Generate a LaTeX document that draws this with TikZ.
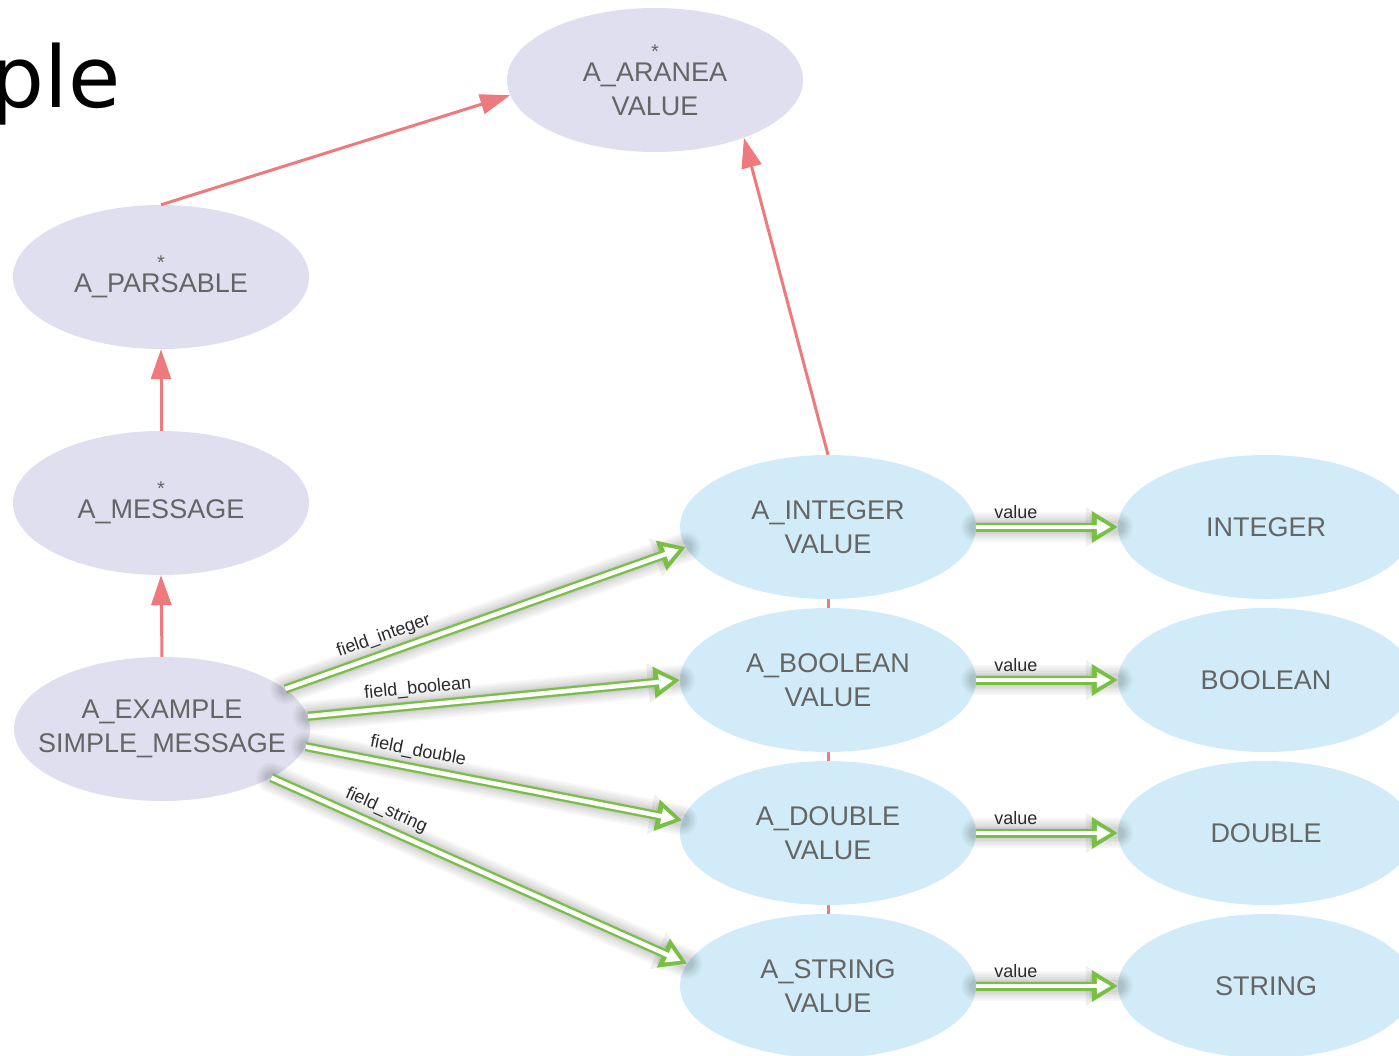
\documentclass[tikz,border=0pt]{standalone}
\usepackage{fontspec}
\setmainfont{Liberation Sans}
\newfontfamily\titlefont{DejaVu Sans}
\usetikzlibrary{shapes.geometric,arrows.meta,backgrounds}

\definecolor{lav}{HTML}{DFDFEF}
\definecolor{blu}{HTML}{D1ECF8}
\definecolor{redc}{HTML}{EE7A7E}
\definecolor{grn}{HTML}{77C042}
\definecolor{txt}{HTML}{656565}
\definecolor{lbl}{HTML}{2A2A2A}

\begin{document}
\begin{tikzpicture}[x=1pt,y=-1pt,
  base/.style={ellipse, inner sep=0pt, minimum width=296pt, minimum height=144pt,
    text=txt, align=center, font=\fontsize{27}{34}\selectfont},
  classnode/.style={base, fill=lav},
  valnode/.style={base, fill=blu},
  inherit/.style={draw=redc, line width=3pt, -{Triangle[length=30pt,width=20pt]}},
  hiddenlink/.style={draw=redc, line width=3pt},
  halo/.style={preaction={draw=black, opacity=0.03, line width=#1, line cap=round, -}},
  flow/.style={
    halo=30pt, halo=26pt, halo=22pt, halo=18pt, halo=15pt, halo=12pt,
    preaction={draw=black, opacity=0.06, line width=10pt, -{Triangle[length=32pt,width=38pt]}},
    draw=grn, line width=9pt, -{Triangle[length=26pt,width=30pt]},
    postaction={draw=white, line width=4.5pt, shorten >=7pt, -{Triangle[length=14pt,width=15pt]}}},
  flowlabel/.style={font=\fontsize{18}{18}\selectfont, text=lbl, sloped, above=3pt, inner sep=1pt}
]
\useasboundingbox (0,0) rectangle (1399,1055);
\clip (0,0) rectangle (1399,1055);

% heading, partly cut off at the left edge
\node[anchor=base west, inner sep=0pt, font=\titlefont\fontsize{85}{85}\selectfont] (title) at (-9.6,107) {ple};

% class hierarchy
\node[classnode] (aranea)   at (655,80)  {{\fontsize{20}{20}\selectfont *}\\[-11pt]A\_ARANEA\\VALUE};
\node[classnode] (parsable) at (161,277) {{\fontsize{20}{20}\selectfont *}\\[-11pt]A\_PARSABLE};
\node[classnode] (message)  at (161,503) {{\fontsize{20}{20}\selectfont *}\\[-11pt]A\_MESSAGE};
\node[classnode, inner xsep=-40pt] (example) at (162,729) {A\_EXAMPLE\\SIMPLE\_MESSAGE};

% value wrappers
\node[valnode] (int)    at (828,527) {A\_INTEGER\\VALUE};
\node[valnode] (bool)   at (828,680) {A\_BOOLEAN\\VALUE};
\node[valnode] (double) at (828,833) {A\_DOUBLE\\VALUE};
\node[valnode] (string) at (828,986) {A\_STRING\\VALUE};

% primitive types
\node[valnode] (intT)    at (1266,527) {INTEGER};
\node[valnode] (boolT)   at (1266,680) {BOOLEAN};
\node[valnode] (doubleT) at (1266,833) {DOUBLE};
\node[valnode] (stringT) at (1266,986) {STRING};

% inheritance links hidden behind the wrappers
\begin{scope}[on background layer]
  \draw[hiddenlink] (bool.north) -- (int.south);
  \draw[hiddenlink] (double.north) -- (bool.south);
  \draw[hiddenlink] (string.north) -- (double.south);
\end{scope}

% inheritance
\draw[inherit] (example.north) -- (message.south);
\draw[inherit] (message.north) -- (parsable.south);
\draw[inherit] (parsable.north) -- (aranea.186);
\draw[inherit] (int.north) -- (aranea.-33);

% fields
\draw[flow] (example.18) -- node[flowlabel, pos=0.26] {field\_integer} (int.188);
\draw[flow] (example.5)  -- node[flowlabel, pos=0.30] {field\_boolean} (bool.180);
\draw[flow] (example.-7) -- node[flowlabel, pos=0.29] {field\_double} (double.175);
\draw[flow] (example.-24) -- node[flowlabel, pos=0.26] {field\_string} (string.171);

% values
\draw[flow] (int.east)    -- node[flowlabel, pos=0.28] {value} (intT.west);
\draw[flow] (bool.east)   -- node[flowlabel, pos=0.28] {value} (boolT.west);
\draw[flow] (double.east) -- node[flowlabel, pos=0.28] {value} (doubleT.west);
\draw[flow] (string.east) -- node[flowlabel, pos=0.28] {value} (stringT.west);
\end{tikzpicture}
\end{document}
